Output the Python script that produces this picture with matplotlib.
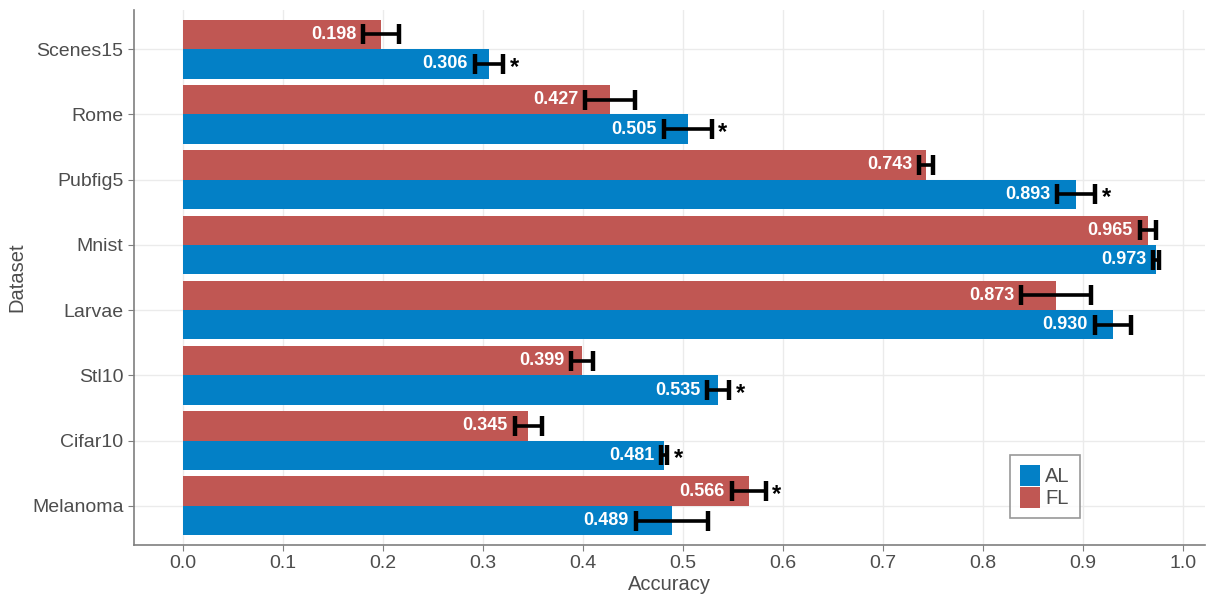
import matplotlib
matplotlib.use('Agg')
import matplotlib.pyplot as plt
from matplotlib.patches import Patch
import numpy as np

datasets = ['Scenes15', 'Rome', 'Pubfig5', 'Mnist', 'Larvae', 'Stl10', 'Cifar10', 'Melanoma']
al_mean = [0.306, 0.505, 0.893, 0.973, 0.930, 0.535, 0.481, 0.489]
al_sd = [0.014, 0.024, 0.019, 0.003, 0.018, 0.011, 0.003, 0.036]
fl_mean = [0.198, 0.427, 0.743, 0.965, 0.873, 0.399, 0.345, 0.566]
fl_sd = [0.018, 0.025, 0.007, 0.008, 0.035, 0.011, 0.0135, 0.017]
# which bar carries the significance star
al_star = [True, True, True, False, False, True, True, False]
fl_star = [False, False, False, False, False, False, False, True]

AL_COLOR = '#0380c6'
FL_COLOR = '#c05753'
GREY = '#4d4d4d'

plt.rcParams['font.family'] = ['Liberation Sans', 'DejaVu Sans']

fig = plt.figure(figsize=(12.08, 5.96), dpi=100)
ax = fig.add_axes([134 / 1208, 1 - 545 / 596, 1071 / 1208, 535 / 596])

pos = np.arange(1, len(datasets) + 1)
h = 0.45


def draw_series(y, means, sds, stars, color):
    ax.barh(y, means, height=h, color=color, zorder=2)
    ax.errorbar(means, y, xerr=sds, fmt='none', ecolor='black',
                elinewidth=2.6, capsize=7, capthick=3.2, zorder=3)
    for yi, m, s, st in zip(y, means, sds, stars):
        ax.text(m - s - 0.007, yi, f'{m:.3f}', ha='right', va='center',
                color='white', fontweight='bold', fontsize=13, zorder=4)
        if st:
            # the bold asterisk sits high in its box, so nudge it down
            ax.text(m + s + 0.011, yi + 0.05, '*', ha='center', va='center',
                    color='black', fontweight='bold', fontsize=17, zorder=4)


draw_series(pos - h / 2, fl_mean, fl_sd, fl_star, FL_COLOR)
draw_series(pos + h / 2, al_mean, al_sd, al_star, AL_COLOR)

ax.set_xlim(-0.049, 1.022)
ax.set_ylim(8.6, 0.4)
ax.set_xticks(np.arange(0, 1.01, 0.1))
ax.set_xticklabels([f'{v:.1f}' for v in np.arange(0, 1.01, 0.1)])
ax.set_yticks(pos)
ax.set_yticklabels(datasets)

ax.grid(True, color='#ebebeb', linewidth=1, zorder=0)
ax.set_axisbelow(True)
for side in ['top', 'right']:
    ax.spines[side].set_visible(False)
for side in ['left', 'bottom']:
    ax.spines[side].set_color('#7f7f7f')
    ax.spines[side].set_linewidth(1.2)
ax.tick_params(colors='#7f7f7f', labelcolor=GREY, labelsize=14, length=4)

ax.set_xlabel('Accuracy', fontsize=14.5, color=GREY, labelpad=2)
ax.set_ylabel('Dataset', fontsize=14.5, color=GREY, labelpad=4)

handles = [Patch(facecolor=AL_COLOR, label='AL'), Patch(facecolor=FL_COLOR, label='FL')]
leg = fig.legend(handles=handles, loc='upper left',
                 bbox_to_anchor=(1010 / 1208, 1 - 455 / 596),
                 fontsize=14.5, frameon=True, fancybox=False,
                 handlelength=1.0, handleheight=1.2, handletextpad=0.25,
                 borderpad=0.5, labelspacing=0.05, borderaxespad=0)
leg.get_frame().set_edgecolor('#7f7f7f')
leg.get_frame().set_linewidth(1.2)
for t in leg.get_texts():
    t.set_color(GREY)

fig.savefig('out.png', dpi=100)
